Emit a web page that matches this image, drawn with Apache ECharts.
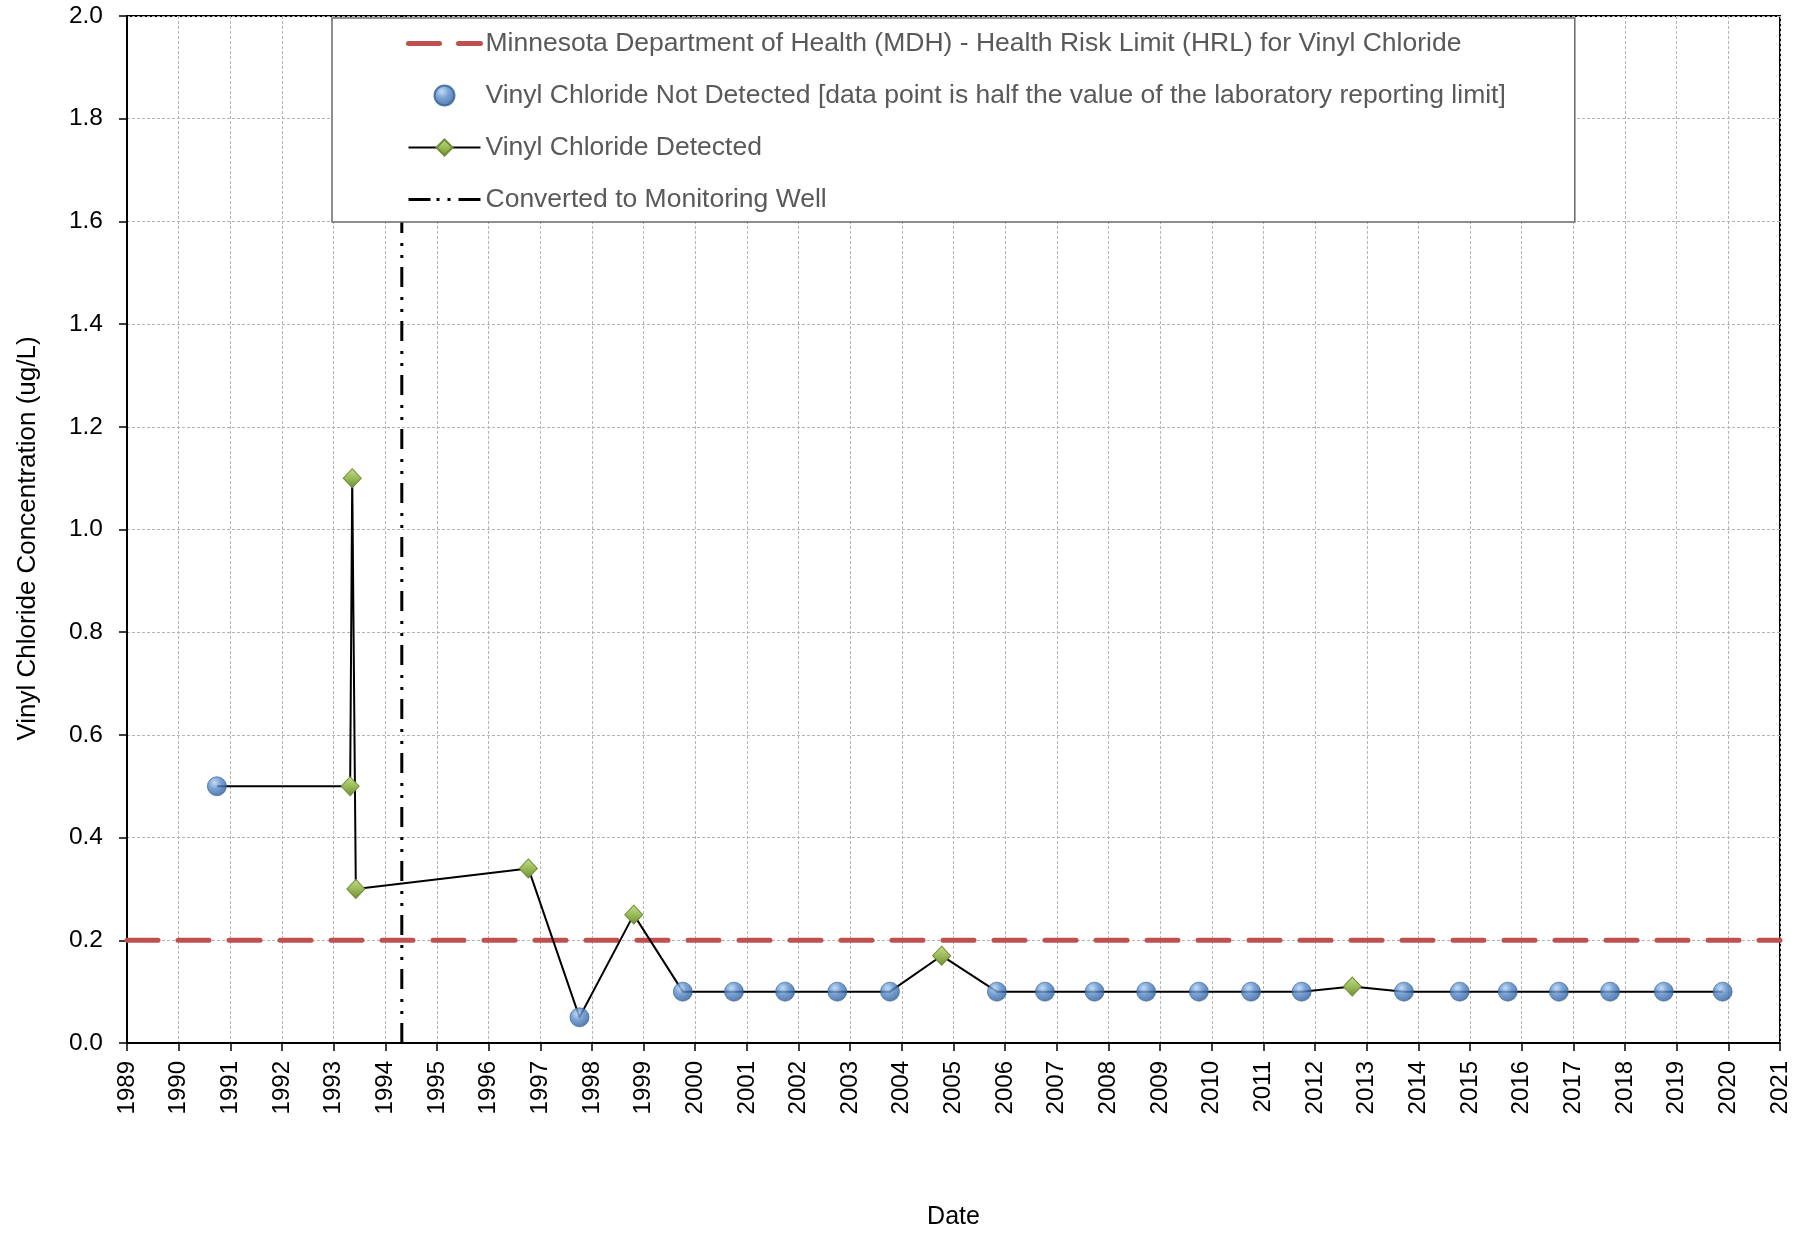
<!DOCTYPE html>
<html>
<head>
<meta charset="utf-8">
<script src="https://cdn.jsdelivr.net/npm/echarts@6/dist/echarts.min.js"></script>
<style>
  html, body { margin: 0; padding: 0; background: #ffffff; }
  #chart { width: 1798px; height: 1233px; }
</style>
</head>
<body>
<div id="chart"></div>
<script>
// Sampling dates are decimal years.
const detectedDates  = [1993.32, 1993.36, 1993.43, 1996.77, 1998.81, 2004.77, 2012.72];
const detectedValues = [0.5, 1.1, 0.3, 0.34, 0.25, 0.17, 0.11];

const notDetectedDates = [1990.74, 1997.76, 1999.76, 2000.75, 2001.74, 2002.75, 2003.77,
                          2005.84, 2006.77, 2007.73, 2008.73, 2009.75, 2010.76, 2011.74,
                          2013.72, 2014.80, 2015.73, 2016.72, 2017.71, 2018.75, 2019.89];
const notDetectedValues = [0.5, 0.05, 0.1, 0.1, 0.1, 0.1, 0.1,
                           0.1, 0.1, 0.1, 0.1, 0.1, 0.1, 0.1,
                           0.1, 0.1, 0.1, 0.1, 0.1, 0.1, 0.1];

const hrlLimit = 0.2;                 // ug/L
const wellConversionDate = 1994.32;   // converted to monitoring well

const yearRange = [1989, 2021];
const concentrationRange = [0, 2.0];

const NAME_HRL = 'Minnesota Department of Health (MDH) - Health Risk Limit (HRL) for Vinyl Chloride';
const NAME_ND  = 'Vinyl Chloride Not Detected [data point is half the value of the laboratory reporting limit]';
const NAME_DET = 'Vinyl Chloride Detected';
const NAME_MW  = 'Converted to Monitoring Well';

const FONT = "'Liberation Sans', Arial, sans-serif";

// All samples in date order, joined by one line; only detections get a diamond.
const allSamples = [];
detectedDates.forEach((d, i) => allSamples.push({ value: [d, detectedValues[i]] }));
notDetectedDates.forEach((d, i) => allSamples.push({ value: [d, notDetectedValues[i]], symbol: 'none' }));
allSamples.sort((a, b) => a.value[0] - b.value[0]);

const blueSphere = {
  type: 'radial', x: 0.38, y: 0.32, r: 0.68,
  colorStops: [
    { offset: 0, color: '#b4d3f3' },
    { offset: 0.45, color: '#5a8ccb' },
    { offset: 1, color: '#2b5b98' }
  ]
};
const greenDiamond = {
  type: 'linear', x: 0, y: 0, x2: 0, y2: 1,
  colorStops: [
    { offset: 0, color: '#c3dd8c' },
    { offset: 0.5, color: '#9bbb59' },
    { offset: 1, color: '#6f8d35' }
  ]
};

const chart = echarts.init(document.getElementById('chart'), null, { renderer: 'canvas' });

chart.setOption({
  animation: false,
  backgroundColor: '#ffffff',
  grid: {
    left: 127, right: 18, top: 16, bottom: 190,
    outerBoundsMode: 'none',
    show: true, borderColor: '#000000', borderWidth: 2, backgroundColor: 'transparent'
  },
  legend: {
    orient: 'vertical',
    left: 332, top: 18,
    padding: [12, 69, 9, 74],
    itemWidth: 72, itemHeight: 20, itemGap: 25,
    backgroundColor: '#ffffff',
    borderColor: '#6a6a6a', borderWidth: 1.5,
    selectedMode: false,
    textStyle: { color: '#595959', fontSize: 26.5, fontFamily: FONT },
    data: [
      { name: NAME_HRL, itemStyle: { opacity: 0 },
        lineStyle: { color: '#C0504D', width: 5, type: [31, 19], cap: 'round' } },
      { name: NAME_ND },
      { name: NAME_DET, lineStyle: { color: '#000000', width: 2 } },
      { name: NAME_MW, itemStyle: { opacity: 0 },
        lineStyle: { color: '#000000', width: 3, type: [22, 6, 3, 8, 3, 8] } }
    ]
  },
  xAxis: {
    type: 'value',
    min: yearRange[0], max: yearRange[1], interval: 1,
    name: 'Date', nameLocation: 'middle', nameGap: 162,
    nameTextStyle: { color: '#000000', fontSize: 25, fontFamily: FONT },
    axisLine: { show: true, lineStyle: { color: '#000000', width: 2 } },
    axisTick: { show: true, inside: false, length: 8, lineStyle: { color: '#000000', width: 1.5 } },
    axisLabel: {
      rotate: 90, margin: 18, color: '#000000', fontSize: 24, fontFamily: FONT,
      formatter: v => String(Math.round(v))
    },
    splitLine: { show: true, lineStyle: { color: '#b4b4b4', width: 1, type: [3, 2] } }
  },
  yAxis: {
    type: 'value',
    min: concentrationRange[0], max: concentrationRange[1], interval: 0.2,
    name: 'Vinyl Chloride Concentration (ug/L)', nameLocation: 'middle', nameGap: 86, nameRotate: 90,
    nameTextStyle: { color: '#000000', fontSize: 26, fontFamily: FONT, padding: [0, 18, 0, 0] },
    axisLine: { show: true, lineStyle: { color: '#000000', width: 2 } },
    axisTick: { show: true, inside: false, length: 8, lineStyle: { color: '#000000', width: 1.5 } },
    axisLabel: {
      margin: 24, color: '#000000', fontSize: 24.5, fontFamily: FONT,
      formatter: v => v.toFixed(1)
    },
    splitLine: { show: true, lineStyle: { color: '#b4b4b4', width: 1, type: [3, 2] } }
  },
  series: [
    {
      name: NAME_HRL,
      type: 'line',
      data: [[yearRange[0], hrlLimit], [yearRange[1], hrlLimit]],
      symbol: 'none',
      silent: true,
      z: 2,
      lineStyle: { color: '#C0504D', width: 5, type: [31, 20], cap: 'round' },
      itemStyle: { color: '#C0504D' }
    },
    {
      name: NAME_MW,
      type: 'line',
      data: [[wellConversionDate, concentrationRange[0]], [wellConversionDate, concentrationRange[1]]],
      symbol: 'none',
      silent: true,
      z: 2,
      lineStyle: { color: '#000000', width: 3, type: [20, 9, 3, 9, 3, 10] },
      itemStyle: { color: '#000000' }
    },
    {
      name: NAME_DET,
      type: 'line',
      data: allSamples,
      symbol: 'diamond',
      symbolSize: [18, 19],
      showAllSymbol: true,
      z: 4,
      lineStyle: { color: '#000000', width: 2 },
      itemStyle: { color: greenDiamond, borderColor: '#6f8d35', borderWidth: 1 }
    },
    {
      name: NAME_ND,
      type: 'scatter',
      data: notDetectedDates.map((d, i) => [d, notDetectedValues[i]]),
      symbol: 'circle',
      symbolSize: 19,
      z: 5,
      itemStyle: { color: blueSphere, borderColor: '#2f5f96', borderWidth: 0.8 }
    }
  ]
});
</script>
</body>
</html>
